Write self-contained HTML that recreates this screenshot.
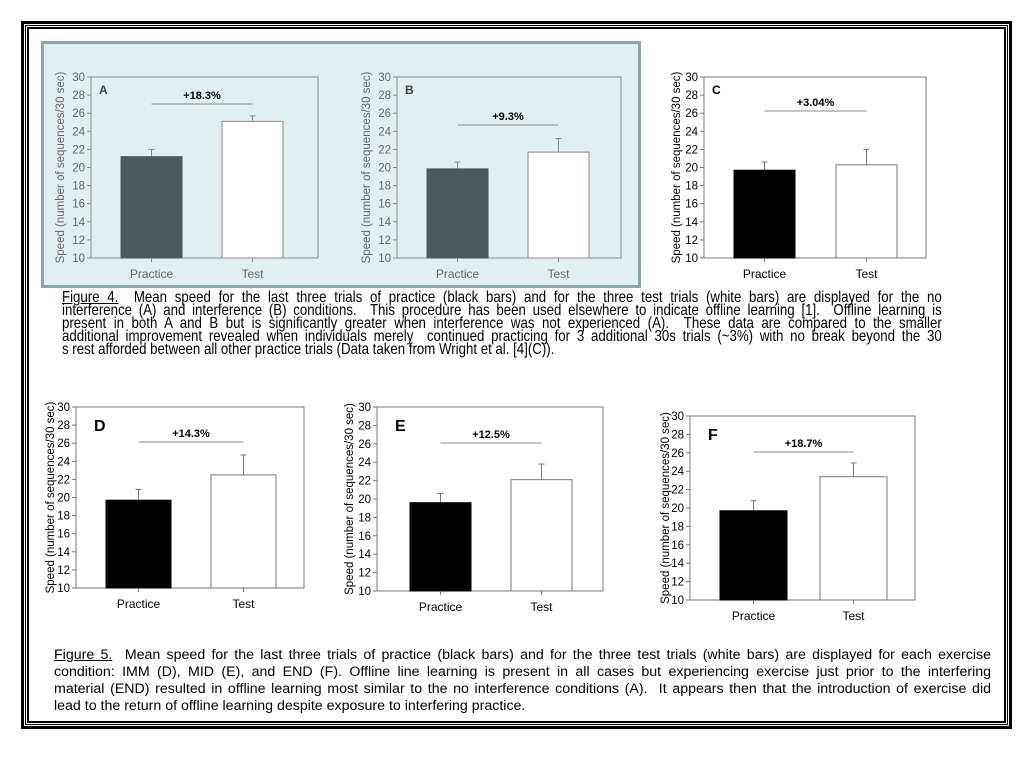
<!DOCTYPE html>
<html><head><meta charset="utf-8"><style>
body{margin:0;width:1024px;height:768px;background:#fff;position:relative;overflow:hidden;font-family:"Liberation Sans",Arial,sans-serif}
.frame{position:absolute;box-sizing:border-box}
.cap{position:absolute;color:#000}
.cap div{text-align:justify;text-align-last:justify;white-space:nowrap;overflow:visible}
.cap div.last{text-align-last:left}
.c4{left:62px;top:291px;width:1035px;font-size:15.6px;line-height:13px;transform:scaleX(0.85);transform-origin:0 0}
.c5{left:54px;top:647px;width:937px;font-size:14.2px;line-height:17px}
u{text-decoration:underline}
svg{position:absolute;left:0;top:0}
</style></head><body>
<div class="frame" style="left:21px;top:21px;width:991px;height:708px;border:3px solid #000"></div>
<div class="frame" style="left:25px;top:25px;width:983px;height:700px;border:1px solid #000"></div>
<div class="frame" style="left:27px;top:27px;width:979px;height:696px;border:2px solid #000"></div>
<div class="frame" style="left:41px;top:41px;width:600px;height:247px;border:3px solid #8aa6a8;background:#e1eff1"></div>

<svg id="chart" width="1024" height="768"></svg>

<div class="cap c4">
<div><u>Figure 4.</u>&nbsp; Mean speed for the last three trials of practice (black bars) and for the three test trials (white bars) are displayed for the no</div>
<div>interference (A) and interference (B) conditions.&nbsp; This procedure has been used elsewhere to indicate offline learning [1].&nbsp; Offline learning is</div>
<div>present in both A and B but is significantly greater when interference was not experienced (A).&nbsp; These data are compared to the smaller</div>
<div>additional improvement revealed when individuals merely&nbsp; continued practicing for 3 additional 30s trials (~3%) with no break beyond the 30</div>
<div class="last">s rest afforded between all other practice trials (Data taken from Wright et al. [4](C)).</div>
</div>
<div class="cap c5">
<div><u>Figure 5.</u>&nbsp; Mean speed for the last three trials of practice (black bars) and for the three test trials (white bars) are displayed for each exercise</div>
<div>condition: IMM (D), MID (E), and END (F). Offline line learning is present in all cases but experiencing exercise just prior to the interfering</div>
<div>material (END) resulted in offline learning most similar to the no interference conditions (A).&nbsp; It appears then that the introduction of exercise did</div>
<div class="last">lead to the return of offline learning despite exposure to interfering practice.</div>
</div>

<script>
const categories=["Practice","Test"];
const panelLabels=["A","B","C","D","E","F"];
const practiceValues=[21.2,19.85,19.7,19.7,19.6,19.7];
const testValues=[25.1,21.7,20.3,22.5,22.1,23.4];
const practiceErrors=[22.0,20.6,20.6,20.9,20.6,20.8];
const testErrors=[25.7,23.2,22.0,24.7,23.8,24.9];
const gainLabels=["+18.3%","+9.3%","+3.04%","+14.3%","+12.5%","+18.7%"];
const yTicks=[10,12,14,16,18,20,22,24,26,28,30];

const layouts=[
 {x0:91,x1:318,y0:258,y1:77,bw:61,b1:121,b2:222,gy:104,tx:60,pc:"#4d5a5c",tc:"#666",ac:"#888"},
 {x0:397,x1:621,y0:258,y1:77,bw:61,b1:427,b2:528,gy:125,tx:366,pc:"#4d5a5c",tc:"#666",ac:"#888"},
 {x0:704,x1:926,y0:258,y1:77,bw:61,b1:734,b2:836,gy:111,tx:676,pc:"#000",tc:"#000",ac:"#777"},
 {x0:76,x1:304,y0:588,y1:407,bw:65,b1:106,b2:211,gy:442,tx:50,pc:"#000",tc:"#000",ac:"#777"},
 {x0:377,x1:603,y0:591,y1:407,bw:61,b1:410,b2:511,gy:443,tx:349,pc:"#000",tc:"#000",ac:"#777"},
 {x0:690,x1:915,y0:600,y1:416,bw:67,b1:720,b2:820,gy:452,tx:665,pc:"#000",tc:"#000",ac:"#777"}
];
const NS="http://www.w3.org/2000/svg";
const svg=document.getElementById("chart");
function mk(tag,attrs,parent){const e=document.createElementNS(NS,tag);for(const k in attrs)e.setAttribute(k,attrs[k]);(parent||svg).appendChild(e);return e;}
layouts.forEach((L,i)=>{
 const g=mk("g",{});
 
 
 const y=v=>L.y0-(v-10)/20*(L.y0-L.y1);
 const frame=mk("rect",{x:L.x0,y:L.y1,width:L.x1-L.x0,height:L.y0-L.y1,fill:"none",stroke:L.ac,"stroke-width":1},g);
 
 
 yTicks.forEach(t=>{
  mk("line",{x1:L.x0-4,x2:L.x0,y1:y(t),y2:y(t),stroke:L.ac},g);
  const tl=mk("text",{x:L.x0-6,y:y(t)+4,"text-anchor":"end","font-size":11.5,fill:L.tc},g);
  tl.textContent=t;
  
  
 });
 const yt=mk("text",{x:0,y:0,"text-anchor":"middle","font-size":11.5,fill:L.tc,transform:`translate(${L.tx+4},${(L.y0+L.y1)/2}) rotate(-90)`},g);
 yt.textContent="Speed (number of sequences/30 sec)";
 
 
 const vals=[practiceValues[i],testValues[i]],errs=[practiceErrors[i],testErrors[i]],bx=[L.b1,L.b2];
 vals.forEach((v,j)=>{
  const cx=bx[j]+L.bw/2;
  mk("line",{x1:cx,x2:cx,y1:y(v),y2:y(errs[j]),stroke:L.ac},g);
  mk("line",{x1:cx-3,x2:cx+3,y1:y(errs[j]),y2:y(errs[j]),stroke:L.ac},g);
  const b=mk("rect",{x:bx[j],y:y(v),width:L.bw,height:L.y0-y(v),fill:j?"#fff":L.pc,stroke:j?L.ac:L.pc,"stroke-width":1},g);
  
  
  mk("line",{x1:cx,x2:cx,y1:L.y0,y2:L.y0+4,stroke:L.ac},g);
  const cl=mk("text",{x:cx,y:L.y0+20,"text-anchor":"middle","font-size":12,fill:L.tc},g);
  cl.textContent=categories[j];
  
  
 });
 const c1=L.b1+L.bw/2,c2=L.b2+L.bw/2;
 mk("line",{x1:c1,x2:c2,y1:L.gy,y2:L.gy,stroke:"#888"},g);
 const gl=mk("text",{x:(c1+c2)/2,y:L.gy-5,"text-anchor":"middle","font-size":11,"font-weight":"bold",fill:"#000"},g);
 gl.textContent=gainLabels[i];
 
 
 const pl=mk("text",{x:L.x0+(i>2?18:8),y:L.y1+(i>2?24:17),"font-size":i>2?16:12,"font-weight":"bold",fill:L.tc==="#666"?"#444":"#000"},g);
 pl.textContent=panelLabels[i];
 
 
});
</script>
</body></html>
